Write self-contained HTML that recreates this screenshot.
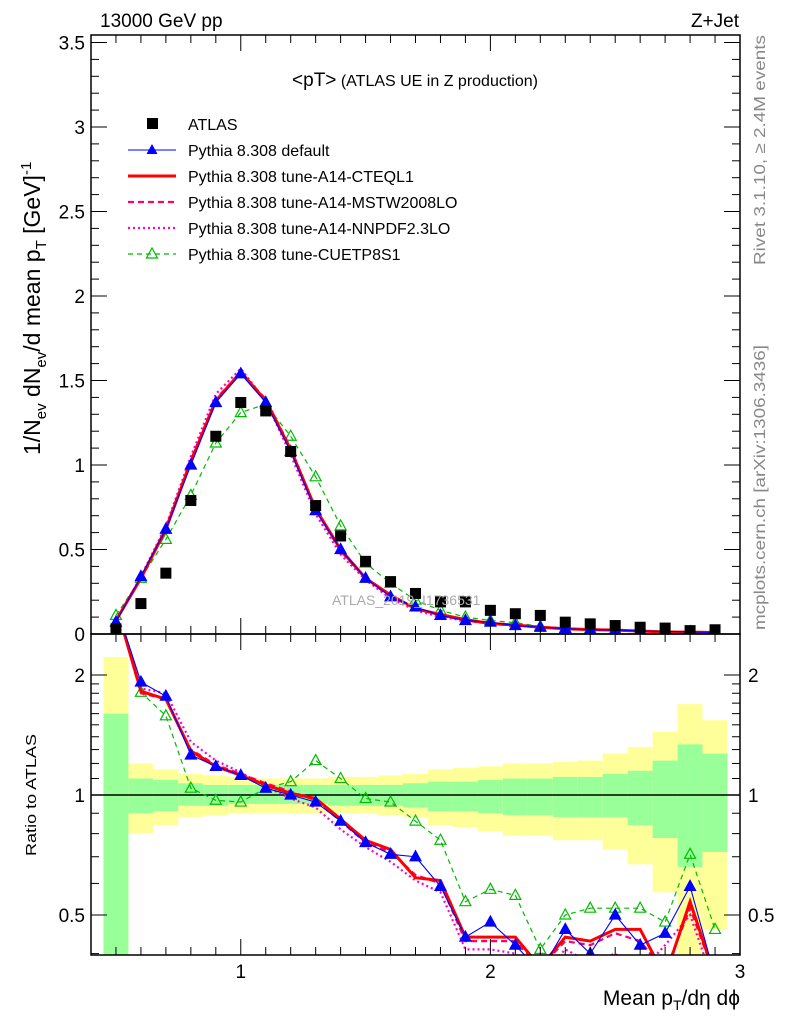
<!DOCTYPE html>
<html><head><meta charset="utf-8"><style>
html,body{margin:0;padding:0;background:#fff;}
svg{display:block;font-family:"Liberation Sans",sans-serif;}
</style></head><body>
<svg id="c" width="786" height="1024" viewBox="0 0 786 1024"></svg>
<script>
const centers=[0.5,0.6,0.7,0.8,0.9,1.0,1.1,1.2,1.3,1.4,1.5,1.6,1.7,1.8,1.9,2.0,2.1,2.2,2.3,2.4,2.5,2.6,2.7,2.8,2.9];
const atlas=[0.03,0.18,0.36,0.79,1.17,1.37,1.32,1.08,0.76,0.58,0.43,0.31,0.24,0.19,0.19,0.14,0.12,0.11,0.07,0.06,0.05,0.04,0.035,0.02,0.025];
const mcDefault=[0.07,0.34,0.62,1.0,1.37,1.54,1.37,1.08,0.73,0.5,0.33,0.22,0.16,0.11,0.08,0.07,0.05,0.04,0.032,0.024,0.025,0.017,0.016,0.012,0.009];
const mcCTEQ=[0.08,0.33,0.62,1.02,1.38,1.55,1.38,1.09,0.74,0.5,0.33,0.23,0.15,0.115,0.085,0.062,0.053,0.04,0.031,0.026,0.023,0.018,0.012,0.011,0.009];
const mcMSTW=[0.08,0.33,0.63,1.03,1.39,1.55,1.39,1.1,0.74,0.49,0.33,0.22,0.15,0.11,0.08,0.06,0.05,0.04,0.03,0.025,0.022,0.018,0.012,0.011,0.009];
const mcNNPDF=[0.08,0.34,0.64,1.05,1.42,1.57,1.38,1.06,0.71,0.47,0.32,0.21,0.14,0.1,0.08,0.06,0.05,0.04,0.03,0.024,0.02,0.016,0.013,0.01,0.008];
const mcCUETP=[0.11,0.33,0.56,0.82,1.13,1.31,1.36,1.17,0.93,0.64,0.42,0.30,0.20,0.14,0.10,0.08,0.067,0.045,0.035,0.031,0.026,0.021,0.017,0.014,0.011];
const rDefault=[3.0,1.92,1.77,1.26,1.18,1.12,1.04,1.0,0.96,0.86,0.76,0.71,0.70,0.59,0.44,0.48,0.42,0.36,0.46,0.40,0.50,0.42,0.45,0.59,0.35];
const rCTEQ=[3.0,1.82,1.74,1.29,1.18,1.12,1.06,1.01,0.98,0.87,0.77,0.73,0.62,0.61,0.44,0.44,0.44,0.37,0.44,0.43,0.46,0.46,0.35,0.54,0.35];
const rMSTW=[3.0,1.80,1.74,1.30,1.19,1.13,1.07,1.02,0.97,0.86,0.76,0.72,0.63,0.60,0.43,0.43,0.43,0.37,0.43,0.42,0.45,0.43,0.36,0.52,0.35];
const rNNPDF=[3.0,1.85,1.80,1.36,1.22,1.14,1.05,0.98,0.93,0.82,0.74,0.68,0.61,0.57,0.41,0.41,0.40,0.35,0.41,0.38,0.40,0.36,0.42,0.50,0.33];
const rCUETP=[3.0,1.81,1.58,1.04,0.97,0.96,1.04,1.08,1.22,1.10,0.98,0.96,0.86,0.77,0.54,0.58,0.56,0.41,0.50,0.52,0.52,0.52,0.48,0.71,0.46];
const yelUp=[2.22,1.20,1.16,1.13,1.12,1.11,1.10,1.10,1.10,1.11,1.11,1.12,1.13,1.16,1.17,1.18,1.20,1.20,1.21,1.22,1.27,1.32,1.44,1.69,1.54];
const yelDn=[0.3,0.80,0.84,0.88,0.89,0.90,0.90,0.90,0.90,0.90,0.90,0.89,0.88,0.84,0.83,0.81,0.79,0.79,0.77,0.77,0.73,0.67,0.57,0.3,0.46];
const grnUp=[1.60,1.10,1.09,1.07,1.06,1.06,1.06,1.06,1.06,1.06,1.06,1.06,1.07,1.08,1.08,1.09,1.10,1.10,1.11,1.11,1.13,1.15,1.22,1.34,1.27];
const grnDn=[0.3,0.90,0.91,0.94,0.94,0.95,0.95,0.95,0.95,0.94,0.94,0.94,0.93,0.91,0.91,0.90,0.89,0.89,0.88,0.88,0.88,0.84,0.78,0.66,0.72];

const NS="http://www.w3.org/2000/svg";
const svg=document.getElementById('c');
const L=91,R=740,T1=35,B1=634,T2=634,B2=955;
const X=v=>L+(v-0.4)/2.6*(R-L);
const Y1=v=>634-v*169;
const Y2=v=>795-Math.log10(v)*398.6;
function el(tag,attrs,parent){const e=document.createElementNS(NS,tag);for(const k in attrs)e.setAttribute(k,attrs[k]);(parent||svg).appendChild(e);return e;}
function txt(s,x,y,size,opts,parent){const t=el('text',Object.assign({x:x,y:y,'font-size':size},opts||{}),parent);t.textContent=s;return t;}

const defs=el('defs',{});
const c1=el('clipPath',{id:'cp1'},defs);el('rect',{x:L,y:T1,width:R-L,height:B1-T1},c1);
const c2=el('clipPath',{id:'cp2'},defs);el('rect',{x:L,y:T2,width:R-L,height:B2-T2},c2);

const bands=el('g',{'clip-path':'url(#cp2)'});


centers.forEach((c,i)=>{
  const x0=X(c-0.05),x1=X(c+0.05);
  const r=el('rect',{x:x0,y:Y2(yelUp[i]),width:x1-x0,height:Y2(yelDn[i])-Y2(yelUp[i]),fill:'#ffff99'},bands);
  
  
  const g=el('rect',{x:x0,y:Y2(grnUp[i]),width:x1-x0,height:Y2(grnDn[i])-Y2(grnUp[i]),fill:'#99ff99'},bands);
  
  
});
el('line',{x1:L,x2:R,y1:Y2(1),y2:Y2(1),stroke:'#000','stroke-width':1.5});

const series=[
 {name:'pythia-default',main:mcDefault,ratio:rDefault,color:'#0000ff',w:1.1,dash:'',marker:'tri'},
 {name:'pythia-a14-cteql1',main:mcCTEQ,ratio:rCTEQ,color:'#ff0000',w:3,dash:'',marker:''},
 {name:'pythia-a14-mstw2008lo',main:mcMSTW,ratio:rMSTW,color:'#ff0066',w:2.2,dash:'6,4',marker:''},
 {name:'pythia-a14-nnpdf23lo',main:mcNNPDF,ratio:rNNPDF,color:'#ff00cc',w:2.2,dash:'2,3',marker:''},
 {name:'pythia-cuetp8s1',main:mcCUETP,ratio:rCUETP,color:'#00bb00',w:1.2,dash:'5,4',marker:'otri'}
];
function drawTri(x,y,s,p,open){const t=el('polygon',{points:`${x},${y-6} ${x-5.5},${y+4} ${x+5.5},${y+4}`,fill:open?'none':s.color,stroke:s.color,'stroke-width':1.2},p);}
series.slice().reverse().forEach(s=>{
  [[s.main,Y1,'cp1','main'],[s.ratio,Y2,'cp2','ratio']].forEach(([vals,Yf,cp,tag])=>{
    const g=el('g',{'clip-path':`url(#${cp})`});
    
    
    const pts=centers.map((c,i)=>X(c)+','+Yf(vals[i])).join(' ');
    el('polyline',{points:pts,fill:'none',stroke:s.color,'stroke-width':s.w,'stroke-dasharray':s.dash},g);
    if(s.marker)centers.forEach((c,i)=>drawTri(X(c),Yf(vals[i]),s,g,s.marker==='otri'));
  });
});
const dg=el('g',{'clip-path':'url(#cp1)'});


centers.forEach((c,i)=>{const r=el('rect',{x:X(c)-5.5,y:Y1(atlas[i])-5.5,width:11,height:11,fill:'#000'},dg);

});

el('rect',{x:L,y:T1,width:R-L,height:B1-T1,fill:'none',stroke:'#000','stroke-width':1.5});
el('rect',{x:L,y:T2,width:R-L,height:B2-T2,fill:'none',stroke:'#000','stroke-width':1.5});

const tk=el('g',{stroke:'#000','stroke-width':1});
for(let k=0;k<=35;k++){const v=k/10,y=Y1(v),len=(k%5===0)?16:8;
  el('line',{x1:L,x2:L+len,y1:y,y2:y},tk);el('line',{x1:R,x2:R-len,y1:y,y2:y},tk);}
for(let k=5;k<=29;k++){const v=k/10,x=X(v),len=(k%10===0)?16:8;
  el('line',{x1:x,x2:x,y1:B1,y2:B1-len},tk);el('line',{x1:x,x2:x,y1:T1,y2:T1+len},tk);
  el('line',{x1:x,x2:x,y1:B2,y2:B2-len},tk);el('line',{x1:x,x2:x,y1:T2,y2:T2+len},tk);}
[0.4,0.5,0.6,0.7,0.8,0.9,1,1.1,1.2,1.3,1.4,1.5,1.6,1.7,1.8,1.9,2].forEach(v=>{const y=Y2(v);if(y<T2||y>B2)return;
  const len=(v===0.5||v===1||v===2)?16:8;
  el('line',{x1:L,x2:L+len,y1:y,y2:y},tk);el('line',{x1:R,x2:R-len,y1:y,y2:y},tk);});

const mainY=['0','0.5','1','1.5','2','2.5','3','3.5'];
mainY.forEach((s,k)=>{const t=txt(s,85,Y1(k*0.5)+7,19,{'text-anchor':'end'});});
[['0.5',0.5],['1',1],['2',2]].forEach(([s,v])=>{const a=txt(s,85,Y2(v)+7,19,{'text-anchor':'end'});
  const b=txt(s,748,Y2(v)+7,19,{});});
[['1',1],['2',2],['3',3]].forEach(([s,v])=>{const t=txt(s,X(v),978,19,{'text-anchor':'middle'});});
</script>
<div style="position:absolute;left:0;top:0;width:786px;height:1024px;pointer-events:none;">
<svg width="786" height="1024" style="position:absolute;left:0;top:0;font-family:'Liberation Sans',sans-serif;">
<text x="100" y="27" font-size="19">13000 GeV pp</text>
<text x="739" y="27" font-size="19" text-anchor="end">Z+Jet</text>
<text x="415" y="86" font-size="16" text-anchor="middle"><tspan font-size="19">&lt;pT&gt;</tspan> (ATLAS UE in Z production)</text>
<g font-size="16">
<rect x="147" y="118" width="11" height="11" fill="#000"/>
<text x="188" y="130">ATLAS</text>
<line x1="128" x2="176" y1="150" y2="150" stroke="#0000ff" stroke-width="1.1"/>
<polygon points="152,144 146.5,154 157.5,154" fill="#0000ff"/>
<text x="188" y="156">Pythia 8.308 default</text>
<line x1="128" x2="176" y1="176" y2="176" stroke="#ff0000" stroke-width="3"/>
<text x="188" y="182">Pythia 8.308 tune-A14-CTEQL1</text>
<line x1="128" x2="176" y1="202" y2="202" stroke="#ff0066" stroke-width="2.2" stroke-dasharray="6,4"/>
<text x="188" y="208">Pythia 8.308 tune-A14-MSTW2008LO</text>
<line x1="128" x2="176" y1="228" y2="228" stroke="#ff00cc" stroke-width="2.2" stroke-dasharray="2,3"/>
<text x="188" y="234">Pythia 8.308 tune-A14-NNPDF2.3LO</text>
<line x1="128" x2="176" y1="254" y2="254" stroke="#00bb00" stroke-width="1.2" stroke-dasharray="5,4"/>
<polygon points="152,248 146.5,258 157.5,258" fill="none" stroke="#00bb00" stroke-width="1.2"/>
<text x="188" y="260">Pythia 8.308 tune-CUETP8S1</text>
</g>
<text x="332" y="605" font-size="14" fill="#aaa">ATLAS_2019_I1736531</text>
<text transform="translate(765,265) rotate(-90)" font-size="16" fill="#888" textLength="230" lengthAdjust="spacingAndGlyphs">Rivet 3.1.10, ≥ 2.4M events</text>
<text transform="translate(765,630) rotate(-90)" font-size="16" fill="#888" textLength="285" lengthAdjust="spacingAndGlyphs">mcplots.cern.ch [arXiv:1306.3436]</text>
<text transform="translate(40,455) rotate(-90)" font-size="23">1/N<tspan font-size="15" dy="6">ev</tspan><tspan dy="-6"> dN</tspan><tspan font-size="15" dy="6">ev</tspan><tspan dy="-6">/d mean p</tspan><tspan font-size="15" dy="6">T</tspan><tspan dy="-6"> [GeV]</tspan><tspan font-size="15" dy="-9">-1</tspan></text>
<text transform="translate(36,856) rotate(-90)" font-size="15" textLength="122" lengthAdjust="spacingAndGlyphs">Ratio to ATLAS</text>
<text x="740" y="1005" font-size="21" text-anchor="end">Mean p<tspan font-size="14" dy="5">T</tspan><tspan dy="-5">/dη dϕ</tspan></text>
</svg></div>
</body></html>
